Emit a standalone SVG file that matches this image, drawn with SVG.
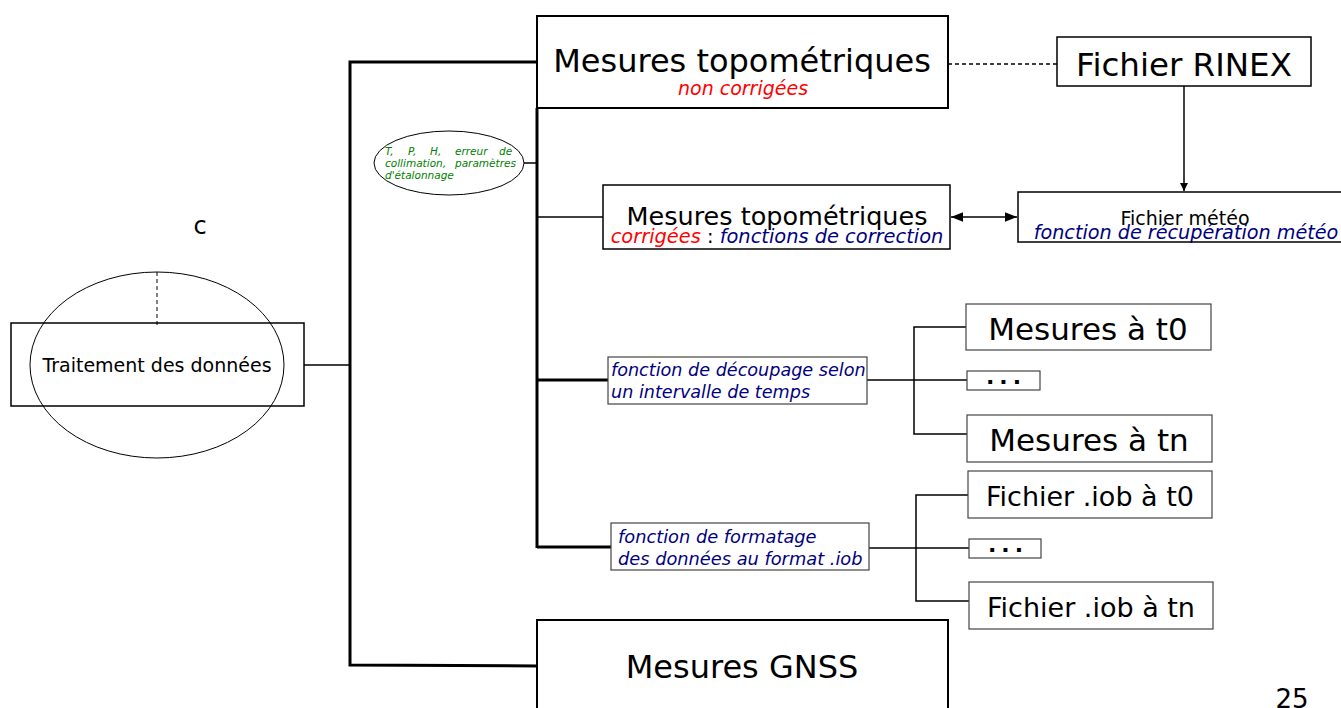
<svg xmlns="http://www.w3.org/2000/svg" width="1341" height="708" viewBox="0 0 1341 708">
<style>
text{font-family:"DejaVu Sans","Liberation Sans",sans-serif;fill:#000}
.box{fill:#fff;stroke:#000;stroke-width:1.5}
.bbox{fill:#fff;stroke:#000;stroke-width:2}
.thin{fill:#fff;stroke:#444;stroke-width:1.2}
.ln{fill:none;stroke:#000;stroke-width:1.5}
.tk{fill:none;stroke:#000;stroke-width:3}
.red{fill:#ff0000;font-style:italic}
.blue{fill:#000080;font-style:italic}
.green{fill:#008000;font-style:italic}
.dots{font-weight:900;letter-spacing:5px;font-family:"DejaVu Sans",sans-serif}
</style>
<defs>
<marker id="ah" viewBox="0 0 10 10" refX="10" refY="5" markerWidth="8" markerHeight="8" orient="auto-start-reverse" markerUnits="userSpaceOnUse"><path d="M0,0 L10,5 L0,10 z" fill="#000"/></marker>
<marker id="ah2" viewBox="0 0 10 10" refX="10" refY="5" markerWidth="12" markerHeight="12" orient="auto-start-reverse" markerUnits="userSpaceOnUse"><path d="M0,1 L10,5 L0,9 z" fill="#000"/></marker>
</defs>
<g id="connectors">
<line class="ln" x1="304" y1="365" x2="350" y2="365"/>
<polyline class="tk" points="537,62 350,62 350,665 537,666"/>
<line class="tk" x1="537" y1="108" x2="537" y2="548"/>
<line class="ln" x1="524" y1="163" x2="537" y2="163"/>
<line class="ln" x1="537" y1="217" x2="603" y2="217"/>
<line class="tk" x1="537" y1="380" x2="608" y2="380"/>
<line class="tk" x1="537" y1="547" x2="611" y2="547"/>
<line class="ln" x1="948" y1="64" x2="1057" y2="64" stroke-dasharray="4,3"/>
<line class="ln" x1="1184" y1="86" x2="1184" y2="191" marker-end="url(#ah)"/>
<line class="ln" x1="951" y1="217" x2="1017" y2="217" marker-start="url(#ah2)" marker-end="url(#ah2)"/>
<line class="ln" x1="867" y1="380" x2="967" y2="380"/>
<polyline class="ln" points="966,327 914,327 914,434 967,434"/>
<line class="ln" x1="869" y1="548" x2="969" y2="548"/>
<polyline class="ln" points="968,495 916,495 916,601 969,601"/>
</g>
<g id="traitement">
<rect class="box" x="11" y="323" width="293" height="83"/>
<ellipse cx="157" cy="365" rx="127" ry="93" fill="none" stroke="#000" stroke-width="1"/>
<line x1="157" y1="272" x2="157" y2="327" stroke="#000" stroke-width="1" stroke-dasharray="4,3"/>
<text x="157" y="372" font-size="19" text-anchor="middle">Traitement des données</text>
</g>
<g id="label-c"><text x="200" y="234" font-size="24" text-anchor="middle">c</text></g>
<g id="mesures-nc">
<rect class="bbox" x="537" y="16" width="411" height="92"/>
<text x="742" y="72" font-size="32" text-anchor="middle">Mesures topométriques</text>
<text x="743" y="95" font-size="19" text-anchor="middle" class="red">non corrigées</text>
</g>
<g id="params">
<ellipse cx="449" cy="163" rx="75" ry="32" fill="#fff" stroke="#000" stroke-width="1"/>
<text font-size="10.5" class="green"><tspan x="385" y="155">T,</tspan><tspan x="408" y="155">P,</tspan><tspan x="430" y="155">H,</tspan><tspan x="455" y="155">erreur</tspan><tspan x="499" y="155">de</tspan><tspan x="385" y="167">collimation,</tspan><tspan x="455" y="167">paramètres</tspan><tspan x="385" y="179">d'étalonnage</tspan></text>
</g>
<g id="mesures-c">
<rect class="box" x="603" y="185" width="347" height="64"/>
<text x="777" y="225" font-size="25.5" text-anchor="middle">Mesures topométriques</text>
<text x="777" y="243" font-size="19.4" text-anchor="middle"><tspan class="red">corrigées</tspan> : <tspan class="blue">fonctions de correction</tspan></text>
</g>
<g id="rinex">
<rect class="box" x="1057" y="37" width="254" height="49"/>
<text x="1184" y="76" font-size="32.5" text-anchor="middle">Fichier RINEX</text>
</g>
<g id="meteo">
<rect class="box" x="1018" y="192" width="330" height="50"/>
<text x="1185" y="225" font-size="19" text-anchor="middle">Fichier météo</text>
<text x="1186" y="239" font-size="19.2" text-anchor="middle" class="blue">fonction de récupération météo</text>
</g>
<g id="decoupage">
<rect class="thin" x="608" y="357" width="259" height="47"/>
<text font-size="17.6" class="blue"><tspan x="611" y="376">fonction de découpage selon</tspan><tspan x="611" y="398">un intervalle de temps</tspan></text>
</g>
<g id="mes-t0">
<rect class="thin" x="966" y="304" width="245" height="46"/>
<text x="1088" y="340" font-size="31" text-anchor="middle">Mesures à t0</text>
</g>
<g id="mes-dots">
<rect class="thin" x="967" y="371" width="73" height="19"/>
<text x="1006" y="384" font-size="22" class="dots" text-anchor="middle">...</text>
</g>
<g id="mes-tn">
<rect class="thin" x="967" y="415" width="245" height="47"/>
<text x="1089" y="451" font-size="31" text-anchor="middle">Mesures à tn</text>
</g>
<g id="formatage">
<rect class="thin" x="611" y="523" width="258" height="47"/>
<text font-size="17.8" class="blue"><tspan x="618" y="543">fonction de formatage</tspan><tspan x="618" y="565">des données au format .iob</tspan></text>
</g>
<g id="iob-t0">
<rect class="thin" x="968" y="471" width="244" height="47"/>
<text x="1090" y="506" font-size="27" text-anchor="middle">Fichier .iob à t0</text>
</g>
<g id="iob-dots">
<rect class="thin" x="969" y="539" width="72" height="19"/>
<text x="1008" y="552" font-size="22" class="dots" text-anchor="middle">...</text>
</g>
<g id="iob-tn">
<rect class="thin" x="969" y="582" width="244" height="47"/>
<text x="1091" y="617" font-size="27" text-anchor="middle">Fichier .iob à tn</text>
</g>
<g id="gnss">
<rect class="bbox" x="537" y="620" width="411" height="100"/>
<text x="742" y="678" font-size="32" text-anchor="middle">Mesures GNSS</text>
</g>
<g id="page"><text x="1292" y="708" font-size="26" text-anchor="middle">25</text></g>
</svg>
